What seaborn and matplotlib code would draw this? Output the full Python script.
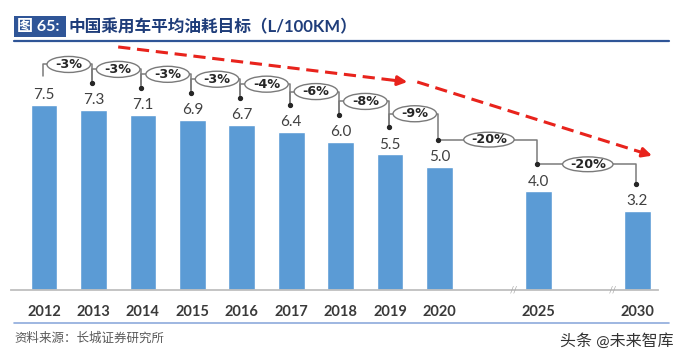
import matplotlib
matplotlib.use("Agg")
import matplotlib.pyplot as plt
import seaborn as sns
import pandas as pd
from matplotlib.patches import Ellipse, Rectangle
from matplotlib.lines import Line2D

# ---- data -------------------------------------------------------------------
years = [2012, 2013, 2014, 2015, 2016, 2017, 2018, 2019, 2020, 2025, 2030]
fuel = [7.5, 7.3, 7.1, 6.9, 6.7, 6.4, 6.0, 5.5, 5.0, 4.0, 3.2]
changes = ["-3%", "-3%", "-3%", "-3%", "-4%", "-6%", "-8%", "-9%", "-20%", "-20%"]

title_tag = "图 65:"
title_text = "中国乘用车平均油耗目标（L/100KM）"
source_text = "资料来源：长城证券研究所"
watermark = "头条 @未来智库"

BAR = "#5b9bd5"
RED = "#e8231c"
GREY = "#7a7a7a"
TXT = "#404040"
NAVY = "#2f5597"

sns.set_style("white")
plt.rcParams["font.family"] = ["Lato", "Noto Sans CJK SC", "DejaVu Sans"]


# broken axis: yearly slots up to 2020, then one slot per 5 years with a gap
def slot(y):
    return y - 2012 if y <= 2020 else 8 + (y - 2020) / 2.5


df = pd.DataFrame({"year": years, "fuel": fuel})
df["pos"] = df["year"].apply(slot)

fig = plt.figure(figsize=(6.85, 3.6), dpi=100)
W, H = 685, 360
ax = fig.add_axes([11 / W, 70 / H, 647 / W, 246.5 / H])

sns.barplot(data=df, x="pos", y="fuel", native_scale=True, color=BAR,
            width=0.54, saturation=1, errorbar=None, ax=ax)
ax.set_xlim(-0.668, 12.42)
ax.set_ylim(0, 10)
ax.set_xticks(df["pos"])
ax.set_xticklabels([str(y) for y in years], fontsize=10.5, color="#3a3a3a",
                   fontweight="bold")
ax.tick_params(axis="x", length=0, pad=11)
ax.set_yticks([])
ax.set_xlabel("")
ax.set_ylabel("")
sns.despine(ax=ax, left=True)
ax.spines["bottom"].set_color("#bfbfbf")
ax.spines["bottom"].set_linewidth(1.3)

# break marks on the axis
for bx in [9.5, 11.5]:
    ax.text(bx, 0, "//", ha="center", va="center", fontsize=6.5,
            color="#a6a6a6", clip_on=False)

# value labels
for p, v in zip(df["pos"], df["fuel"]):
    ax.annotate(f"{v:.1f}", (p, v), xytext=(0, 2), textcoords="offset points",
                ha="center", va="bottom", fontsize=11, color=TXT)

# change brackets
pos = list(df["pos"])
for i, lab in enumerate(changes):
    xa, xb = pos[i] - 0.03, pos[i + 1] - 0.03
    va_, vb = fuel[i], fuel[i + 1]
    end = vb + 1.1
    if pos[i + 1] - pos[i] > 1:
        lvl = va_ + 1.1
        xs, ys = [xa, xb, xb], [lvl, lvl, end]
        ew, eh = 1.02, 0.6
    else:
        lvl = va_ + 1.65
        xs, ys = [xa, xa, xb, xb], [va_ + 1.2, lvl, lvl, end]
        ew, eh = 0.88, 0.65
    ax.add_line(Line2D(xs, ys, color=GREY, lw=1.1, clip_on=False, zorder=3))
    ax.plot([xb], [end], marker="o", ms=2.8, color="#262626", clip_on=False, zorder=4)
    cx = (pos[i] + pos[i + 1]) / 2
    ax.add_patch(Ellipse((cx, lvl), ew, eh, facecolor="white", edgecolor=GREY,
                         lw=1.0, clip_on=False, zorder=5))
    ax.text(cx, lvl, lab, ha="center", va="center", fontsize=9.2,
            family=["DejaVu Sans"], fontweight="bold", color="#262626", zorder=6)


# red dashed trend arrows
def dashed_arrow(p0, p1):
    x0, y0 = p0
    x1, y1 = p1
    k = 0.93
    xm, ym = x0 + (x1 - x0) * k, y0 + (y1 - y0) * k
    ax.plot([x0, xm], [y0, ym], color=RED, lw=2.2, ls=(0, (4, 2.2)),
            solid_capstyle="butt", clip_on=False, zorder=2)
    ax.annotate("", xy=(x1, y1), xytext=(xm, ym),
                arrowprops=dict(arrowstyle="-|>", color=RED, lw=2.2,
                                mutation_scale=14, shrinkA=0, shrinkB=0),
                annotation_clip=False, zorder=2)


dashed_arrow((1.50, 9.86), (7.35, 8.44))
dashed_arrow((7.55, 8.44), (12.30, 5.45))

# title block
fig.patches.append(Rectangle((14 / W, 1 - 37 / H), 52 / W, 21 / H,
                             transform=fig.transFigure, facecolor=NAVY,
                             edgecolor="none"))
fig.text(17 / W, 1 - 27 / H, title_tag, color="white", fontsize=11.5,
         fontweight="bold", va="center", ha="left")
fig.text(68 / W, 1 - 27 / H, title_text, color="#1f3d7a", fontsize=12,
         fontweight="bold", va="center", ha="left")
fig.add_artist(Line2D([14 / W, 669 / W], [1 - 41 / H, 1 - 41 / H],
                      transform=fig.transFigure, color=NAVY, lw=1.6))

# footer
fig.add_artist(Line2D([14 / W, 669 / W], [1 - 323 / H, 1 - 323 / H],
                      transform=fig.transFigure, color="#8eaadb", lw=1.2))
fig.text(14 / W, 1 - 338 / H, source_text, color="#595959", fontsize=9,
         va="center", ha="left")
fig.text(560 / W, 1 - 341 / H, watermark, color="#333333", fontsize=11.5,
         va="center", ha="left")

fig.savefig("out.png", dpi=100)
